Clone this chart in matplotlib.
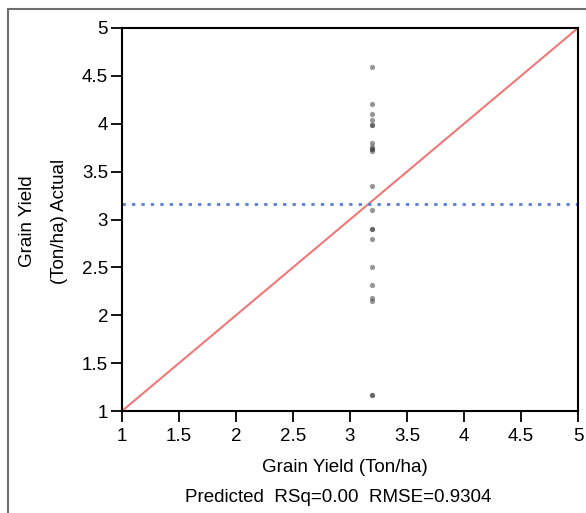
import numpy as np
import matplotlib.pyplot as plt
from matplotlib.patches import Rectangle

plt.rcParams['font.family'] = ['Liberation Sans', 'DejaVu Sans']

# actual vs predicted grain yield (Ton/ha)
actual = [4.59, 4.21, 4.10, 4.04, 3.99, 3.99, 3.80, 3.76, 3.74, 3.74, 3.72,
          3.35, 3.10, 2.90, 2.90, 2.80, 2.50, 2.32, 2.18, 2.15, 1.17, 1.17]
predicted = [3.19] * len(actual)
mean_actual = 3.16
ticks = [1, 1.5, 2, 2.5, 3, 3.5, 4, 4.5, 5]
tick_labels = ['1', '1.5', '2', '2.5', '3', '3.5', '4', '4.5', '5']

fig = plt.figure(figsize=(5.86, 5.13), dpi=100)

# grey outer frame
fig.patches.append(Rectangle((8/586, -0.1), 1.2, 1 - 9/513 + 0.1,
                             transform=fig.transFigure, fill=False,
                             edgecolor='#6e6e6e', linewidth=1.5))

ax = fig.add_axes([122/586, 1 - 411/513, 456/586, 383/513])
ax.plot([1, 5], [1, 5], color='#f07878', linewidth=1.5, zorder=2)
ax.axhline(mean_actual, color='#5b7fd8', linestyle=(0, (1.2, 2.2)), linewidth=2, zorder=2)
ax.scatter(predicted, actual, s=14, marker='o', color='#404040', alpha=0.55,
           linewidths=0, zorder=3)

ax.set_xlim(1, 5)
ax.set_ylim(1, 5)
ax.set_xticks(ticks)
ax.set_xticklabels(tick_labels)
ax.set_yticks(ticks)
ax.set_yticklabels(tick_labels)
ax.tick_params(direction='out', length=8, width=1.3, labelsize=13.5, pad=2)
ax.tick_params(axis='x', pad=4)
for s in ax.spines.values():
    s.set_linewidth(1.5)

fig.text(345/586, 1 - 468/513, 'Grain Yield (Ton/ha)', ha='center', va='center', fontsize=13.5)
fig.text(338/586, 1 - 497/513, 'Predicted  RSq=0.00  RMSE=0.9304', ha='center', va='center', fontsize=13.5)
fig.text(28/586, 1 - 221/513, 'Grain Yield', rotation=90, ha='center', va='center', fontsize=13.5)
fig.text(60/586, 1 - 221/513, '(Ton/ha) Actual', rotation=90, ha='center', va='center', fontsize=13.5)

fig.savefig('out.png', dpi=100)
